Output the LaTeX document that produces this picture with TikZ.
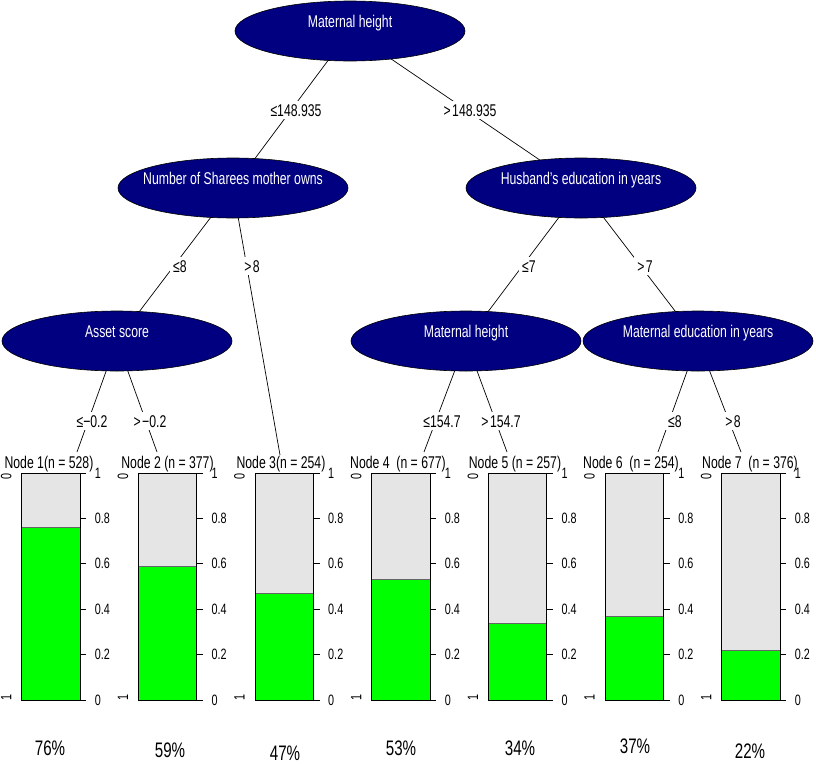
\documentclass[tikz,border=0pt]{standalone}
\usepackage{fontspec}
\setmainfont{Liberation Sans}[FakeStretch=0.72]
\usetikzlibrary{shapes.geometric,backgrounds}
\definecolor{navyfill}{RGB}{0,0,128}
\definecolor{bargreen}{RGB}{0,255,0}
\definecolor{bargray}{RGB}{229,229,229}
\begin{document}
\begin{tikzpicture}[x=1pt,y=-1pt,
  splitnode/.style={ellipse, draw=black, fill=navyfill, minimum width=230pt, minimum height=60pt, inner sep=0pt, line width=0.6pt},
  splittext/.style={anchor=base, text=white, inner sep=0pt, font=\fontsize{17}{20}\selectfont},
  edgelab/.style={anchor=base, fill=white, inner sep=3pt, font=\fontsize{17}{20}\selectfont},
  edgeline/.style={line width=0.7pt},
  termlab/.style={anchor=base, inner sep=0pt, font=\fontsize{17}{20}\selectfont},
  axislab/.style={anchor=west, inner sep=0pt, font=\fontsize{15}{18}\selectfont},
  leftlab/.style={rotate=90, inner sep=0pt, font=\fontsize{15}{18}\selectfont},
  pctlab/.style={anchor=base, inner sep=0pt, font=\fontsize{21}{24}\selectfont},
  boxline/.style={draw=black, line width=0.8pt},
]
\useasboundingbox (0,0) rectangle (816,763);

% inner nodes
\node[splitnode] (root)    at (350,31)  {};
\node[splitnode] (sharees) at (233,188) {};
\node[splitnode] (husband) at (581,188) {};
\node[splitnode] (asset)   at (117,341) {};
\node[splitnode] (mh)      at (466,341) {};
\node[splitnode] (medu)    at (698,341) {};

\node[splittext] (troot) at ([yshift=4pt]root.center)    {Maternal height};
\node[splittext] (tshar) at ([yshift=4pt]sharees.center) {Number of Sharees mother owns};
\node[splittext] (thusb) at ([yshift=4pt]husband.center) {Husband's education in years};
\node[splittext] (tasse) at ([yshift=4pt]asset.center)   {Asset score};
\node[splittext] (tmh)   at ([yshift=4pt]mh.center)      {Maternal height};
\node[splittext] (tmedu) at ([yshift=4pt]medu.center)    {Maternal education in years};

% terminal edge ends
\coordinate (e1) at (77,452);
\coordinate (e2) at (157,452);
\coordinate (e3) at (280,455);
\coordinate (e4) at (424,452);
\coordinate (e5) at (507,452);
\coordinate (e6) at (658,452);
\coordinate (e7) at (741,452);

\begin{pgfonlayer}{background}
\draw[edgeline] (root.center) -- (sharees.center);
\draw[edgeline] (root.center) -- (husband.center);
\draw[edgeline] (sharees.center) -- (asset.center);
\draw[edgeline] (sharees.center) -- (e3);
\draw[edgeline] (husband.center) -- (mh.center);
\draw[edgeline] (husband.center) -- (medu.center);
\draw[edgeline] (asset.center) -- (e1);
\draw[edgeline] (asset.center) -- (e2);
\draw[edgeline] (mh.center) -- (e4);
\draw[edgeline] (mh.center) -- (e5);
\draw[edgeline] (medu.center) -- (e6);
\draw[edgeline] (medu.center) -- (e7);
\end{pgfonlayer}

% edge labels
\node[edgelab] (l1) at (296,116) {≤148.935};
\node[edgelab] (l2) at (470,116) {>\kern1.5pt148.935};
\node[edgelab] (l3) at (180,272) {≤8};
\node[edgelab] (l4) at (252,272) {>\kern1.5pt8};
\node[edgelab] (l5) at (529,272) {≤7};
\node[edgelab] (l6) at (645,272) {>\kern1.5pt7};
\node[edgelab] (l7) at (92,427) {≤−0.2};
\node[edgelab] (l8) at (150,427) {>\kern1.5pt−0.2};
\node[edgelab] (l9) at (442,427) {≤154.7};
\node[edgelab] (l10) at (501,427) {>\kern1.5pt154.7};
\node[edgelab] (l11) at (675,427) {≤8};
\node[edgelab] (l12) at (733,427) {>\kern1.5pt8};

% terminal panels
\foreach \k/\p/\pc/\lab/\lx/\px/\py in {
  1/0.76/76/{Node 1(n = 528)}/49/50/755,
  2/0.59/59/{Node 2 (n = 377)}/167.5/170/757,
  3/0.47/47/{Node 3(n = 254)}/281/285/760,
  4/0.53/53/{Node 4\ \ (n = 677)}/398/401/755,
  5/0.34/34/{Node 5 (n = 257)}/515/520/755,
  6/0.37/37/{Node 6\ \ (n = 254)}/631/635/753,
  7/0.22/22/{Node 7\ \ (n = 376)}/750/750/758}{
  \pgfmathsetmacro\L{21.7+116.67*(\k-1)}
  \pgfmathsetmacro\R{\L+58.5}
  \pgfmathsetmacro\G{700-227*\p}
  \fill[bargray] (\L,473) rectangle (\R,700);
  \fill[bargreen] (\L,\G) rectangle (\R,700);
  \draw[black!60, line width=0.5pt] (\L,\G) -- (\R,\G);
  \draw[boxline] (\L,473) rectangle (\R,700);
  \foreach \v/\t in {0/0,0.2/0.2,0.4/0.4,0.6/0.6,0.8/0.8,1/1}{
    \draw[line width=0.8pt] (\R,700-227*\v) -- (\R+6,700-227*\v);
    \node[axislab] at (\R+14.5,700-227*\v) {\t};
  }
  \node[leftlab] at (\L-15.5,476) {0};
  \node[leftlab] at (\L-15.5,697) {1};
  \node[termlab] (t\k) at (\lx,468) {\lab};
  \node[pctlab] (p\k) at (\px,\py) {\pc\%};
}
\end{tikzpicture}
\end{document}
